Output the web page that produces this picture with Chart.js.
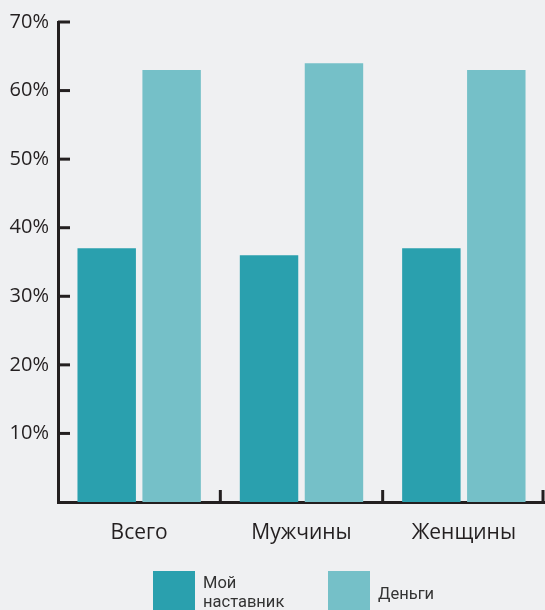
<!DOCTYPE html>
<html>
<head>
<meta charset="utf-8">
<script src="https://cdn.jsdelivr.net/npm/chart.js@4/dist/chart.umd.min.js"></script>
<style>
  html, body { margin: 0; padding: 0; background: #eff0f2; }
  #wrap { width: 545px; height: 610px; position: relative; }
</style>
</head>
<body>
<div id="wrap"><canvas id="myChart" width="545" height="610"></canvas></div>
<script>
const categories = ['Всего', 'Мужчины', 'Женщины'];
const mentorValues = [37, 36, 37];
const moneyValues = [63, 64, 63];
const seriesNames = [['Мой', 'наставник'], 'Деньги'];
const yTicks = [10, 20, 30, 40, 50, 60, 70];

const axisColor = '#231f20';
const darkTeal = '#2aa0ae';
const lightTeal = '#75c0c8';

// axis ticks pointing into the plot + legend at the bottom
const decorations = {
  id: 'decorations',
  afterDraw(chart) {
    const ctx = chart.ctx;
    const y = chart.scales.y, x = chart.scales.x;
    const area = chart.chartArea;
    ctx.save();
    ctx.strokeStyle = axisColor;
    ctx.lineWidth = 3;
    yTicks.forEach(v => {
      const py = y.getPixelForValue(v);
      ctx.beginPath();
      ctx.moveTo(area.left, py);
      ctx.lineTo(area.left + 12, py);
      ctx.stroke();
    });
    for (let i = 1; i <= categories.length; i++) {
      const px = (x.getPixelForValue(i - 1) + x.getPixelForValue(Math.min(i, categories.length - 1))) / 2;
      const bx = i < categories.length ? px : area.right - 2;
      ctx.beginPath();
      ctx.moveTo(bx, area.bottom);
      ctx.lineTo(bx, area.bottom - 12);
      ctx.stroke();
    }
    // legend
    const items = chart.data.datasets;
    const boxX = [153, 328];
    ctx.font = '16.5px Roboto, "Liberation Sans", sans-serif';
    ctx.textBaseline = 'middle';
    items.forEach((ds, i) => {
      ctx.fillStyle = ds.backgroundColor;
      ctx.fillRect(boxX[i], 571, 42, 42);
      ctx.fillStyle = '#333';
      const lbl = seriesNames[i];
      if (Array.isArray(lbl)) {
        ctx.fillText(lbl[0], boxX[i] + 50, 584);
        ctx.fillText(lbl[1], boxX[i] + 50, 603);
      } else {
        ctx.fillText(lbl, boxX[i] + 50, 595);
      }
    });
    ctx.restore();
  }
};

const ctx = document.getElementById('myChart').getContext('2d');
new Chart(ctx, {
  type: 'bar',
  data: {
    labels: categories,
    datasets: [
      { label: 'Мой наставник', data: mentorValues, backgroundColor: darkTeal, borderWidth: 0 },
      { label: 'Деньги', data: moneyValues, backgroundColor: lightTeal, borderWidth: 0 }
    ]
  },
  options: {
    responsive: false,
    animation: false,
    layout: { padding: { top: 22, right: 0, left: 0, bottom: 0 } },
    datasets: { bar: { categoryPercentage: 0.8, barPercentage: 0.9 } },
    plugins: { legend: { display: false }, tooltip: { enabled: false } },
    scales: {
      x: {
        grid: { display: false, drawTicks: false },
        border: { color: axisColor, width: 3 },
        ticks: {
          padding: 18,
          color: axisColor,
          font: { family: '"Open Sans", "DejaVu Sans", sans-serif', size: 21 }
        },
        afterFit: s => { s.height = 108; }
      },
      y: {
        min: 0,
        max: 70,
        grid: { display: false, drawTicks: false },
        border: { color: axisColor, width: 3 },
        afterBuildTicks: s => { s.ticks = yTicks.map(v => ({ value: v })); },
        ticks: {
          padding: 9,
          color: axisColor,
          callback: v => v + '%',
          font: { family: '"Open Sans", "DejaVu Sans", sans-serif', size: 20 }
        },
        afterFit: s => { s.width = 58; }
      }
    }
  },
  plugins: [decorations]
});
</script>
</body>
</html>
